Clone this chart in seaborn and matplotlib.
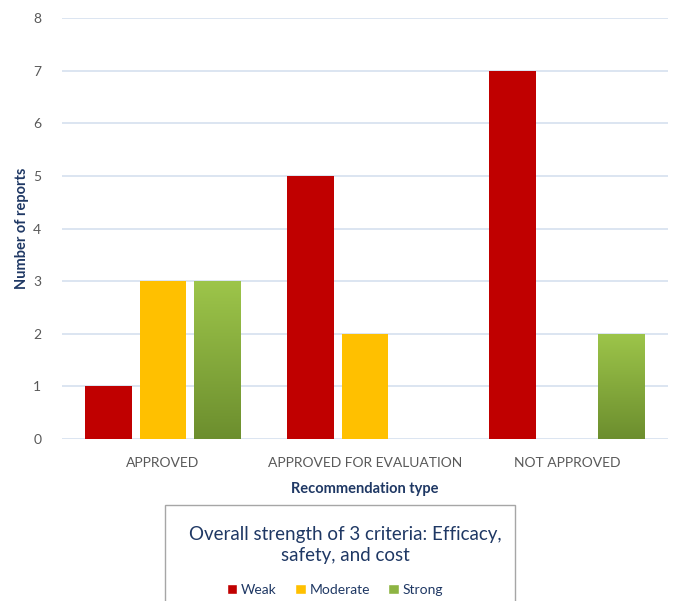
import numpy as np
import pandas as pd
import matplotlib
matplotlib.use("Agg")
import matplotlib.pyplot as plt
from matplotlib.patches import Rectangle
from matplotlib.colors import LinearSegmentedColormap
import seaborn as sns

categories = ["APPROVED", "APPROVED FOR EVALUATION", "NOT APPROVED"]
strengths = ["Weak", "Moderate", "Strong"]
weak = [1, 5, 7]
moderate = [3, 2, 0]
strong = [3, 0, 2]
yticks = list(range(0, 9))

rows = []
for i, c in enumerate(categories):
    rows.append((c, "Weak", weak[i]))
    rows.append((c, "Moderate", moderate[i]))
    rows.append((c, "Strong", strong[i]))
df = pd.DataFrame(rows, columns=["type", "strength", "count"])

sns.set_theme(style="white")
plt.rcParams["font.family"] = ["Lato", "DejaVu Sans"]

palette = {"Weak": "#C00000", "Moderate": "#FFC000", "Strong": "#8DB443"}

fig = plt.figure(figsize=(6.77, 6.01), dpi=100)
ax = fig.add_axes([62 / 677, 1 - 439 / 601, 606 / 677, 421 / 601])

sns.barplot(data=df, x="type", y="count", hue="strength", hue_order=strengths,
            order=categories, palette=palette, width=0.81, gap=0.15,
            saturation=1, ax=ax, legend=False, errorbar=None, linewidth=0)

# gradient on green bars
cmap = LinearSegmentedColormap.from_list("g", ["#6C8E2E", "#9DC54A"])
grad = np.linspace(0, 1, 256).reshape(-1, 1)
for p in ax.containers[2]:
    h = p.get_height()
    if h <= 0:
        continue
    x0 = p.get_x()
    w = p.get_width()
    p.set_facecolor("none")
    im = ax.imshow(grad, cmap=cmap, origin="lower", aspect="auto",
                   extent=[x0, x0 + w, 0, h], zorder=p.get_zorder())
    im.set_clip_path(p)

ax.set_xlim(-0.5, 2.5)
ax.set_ylim(0, 8)
ax.set_yticks(yticks)
ax.yaxis.grid(True, color="#D6E0EF", linewidth=1.2)
ax.set_axisbelow(True)
for s in ax.spines.values():
    s.set_visible(False)
ax.tick_params(axis="both", length=0, colors="#595959", labelsize=10)
ax.tick_params(axis="y", pad=15)
ax.tick_params(axis="x", pad=13)
ax.set_xlabel("Recommendation type", fontsize=10.5, fontweight="bold", color="#1F3864", labelpad=9)
ax.set_ylabel("Number of reports", fontsize=10.5, fontweight="bold", color="#1F3864", labelpad=3)

# legend box
box = Rectangle((165 / 677, -0.05), (515 - 165) / 677, 1 - 505 / 601 + 0.05,
                transform=fig.transFigure, facecolor="white", edgecolor="#A6A6A6",
                linewidth=1.0, zorder=0)
fig.patches.append(box)
fig.text(345 / 677, 1 - 545 / 601, "Overall strength of 3 criteria: Efficacy,\nsafety, and cost",
         ha="center", va="center", fontsize=13.5, color="#1F3864", linespacing=1.3)
handles = [Rectangle((0, 0), 1, 1, facecolor=palette[s]) for s in strengths]
fig.legend(handles, strengths, loc="center", bbox_to_anchor=(335 / 677, 1 - 590 / 601),
           ncol=3, frameon=False, fontsize=10, handlelength=0.75, handleheight=0.75,
           handletextpad=0.3, columnspacing=1.3, labelcolor="#1F3864")

fig.savefig("out.png", dpi=100)
